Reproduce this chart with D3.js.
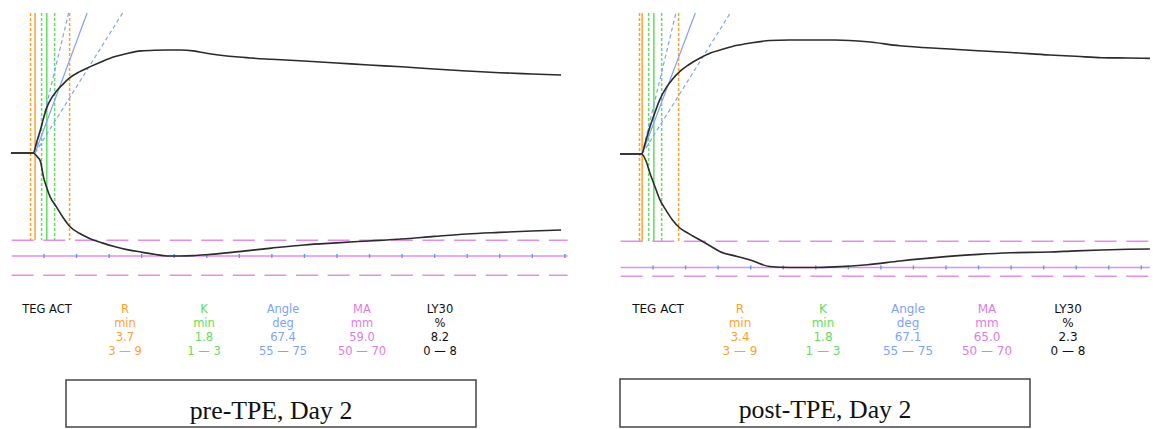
<!DOCTYPE html>
<html>
<head>
<meta charset="utf-8">
<script src="https://cdn.jsdelivr.net/npm/d3@7"></script>
<style>
  body { margin: 0; background: #fff; }
  svg { display: block; }
</style>
</head>
<body>
<div id="chart"></div>
<script>
// TEG tracings, pre and post TPE (amplitude in mm vs time in min)
const timesPre = [0, 3.4, 4.0, 4.5, 5.0, 5.5, 6.0, 7.0, 8.0, 9.0, 10.5, 12, 14, 16, 18, 20, 22, 24, 26, 28, 30, 35, 40, 45, 50, 55, 60, 65, 70, 75, 80, 84.5];
const upperPre = [0, 0, 7, 13, 20, 26, 30, 35.5, 39.5, 43, 46.5, 49.2, 52.5, 55.3, 57.2, 58.5, 58.9, 59, 59, 58.5, 57.2, 55, 53.7, 52.7, 51.6, 50.4, 49.4, 48.1, 47, 46, 45.3, 44.7];
const lowerPre = [0, 0, 2, 4.5, 14, 20, 25, 31, 37, 42, 46, 48.8, 51.5, 53.7, 55.5, 56.8, 58, 59, 59, 58.8, 58.3, 56.5, 54.5, 52.7, 51.5, 50.4, 49.3, 47.8, 46.4, 45.5, 44.7, 44.1];

const timesPost = [0, 3.3, 4.0, 4.6, 5.2, 6.1, 7.2, 8.0, 9.2, 10.5, 12.3, 14, 15.4, 18, 20, 23, 26, 30, 33, 38, 43, 50, 55, 60, 66, 70, 74, 78, 81.4];
const upperPost = [0, 0, 8, 15.5, 22, 31, 38.6, 42.5, 47.3, 51, 55, 58, 59.6, 62.3, 63.6, 65, 65.3, 65.3, 65.3, 64.3, 62, 60.3, 59.2, 58.2, 56.7, 56, 55.2, 55, 54.8];
const lowerPost = [0, 0, 4, 11, 17, 26, 33, 37.5, 42.4, 45.5, 49.3, 53, 56, 58.7, 60.7, 64.5, 65, 65, 64.7, 63.5, 61.3, 58.8, 57.5, 56.6, 56.2, 55.5, 55, 54.6, 54.4];

// parameter table
const paramNames = ["R", "K", "Angle", "MA", "LY30"];
const paramUnits = ["min", "min", "deg", "mm", "%"];
const valuesPre = [3.7, 1.8, 67.4, 59.0, 8.2];
const valuesPost = [3.4, 1.8, 67.1, 65.0, 2.3];
const rangeLow = [3, 1, 55, 50, 0];
const rangeHigh = [9, 3, 75, 70, 8];
const captions = ["pre-TPE, Day 2", "post-TPE, Day 2"];

const colors = ["#ff9f2e", "#62dd62", "#7fa2ff", "#e07ce0", "#111"];
const traceColor = "#2b2b2b";

const width = 1156, height = 429;
const pxPerMin = 6.51, pxPerMm = 1.745, topY = 13;

const panels = [
  { x0: 11, cy: 153, tEnd: 85.5, ticksTo: 85, times: timesPre, upper: upperPre, lower: lowerPre, values: valuesPre,
    labelX: 47, cols: [125, 204, 283, 362, 440], font: 11.5, caption: captions[0], box: [66, 380, 410, 47] },
  { x0: 620, cy: 154, tEnd: 81.4, ticksTo: 80, times: timesPost, upper: upperPost, lower: lowerPost, values: valuesPost,
    labelX: 658, cols: [740, 823, 908, 987, 1068], font: 12, caption: captions[1], box: [620, 379, 410, 48] }
];

const svg = d3.select("#chart").append("svg")
  .attr("width", width)
  .attr("height", height);

panels.forEach(p => {
  const g = svg.append("g");

  const x = d3.scaleLinear().domain([0, 90]).range([p.x0, p.x0 + 90 * pxPerMin]);
  const y = d3.scaleLinear().domain([-80, 80]).range([p.cy + 80 * pxPerMm, p.cy - 80 * pxPerMm]);

  const R = p.values[0], K = p.values[1], angle = p.values[2], MA = p.values[3];
  const bottomY = y(-rangeLow[3]);

  // R and K markers
  const vlines = [
    { t: rangeLow[0], c: colors[0], dash: "3,2" },
    { t: rangeHigh[0], c: colors[0], dash: "3,2" },
    { t: R + rangeLow[1], c: colors[1], dash: "3,2" },
    { t: R + rangeHigh[1], c: colors[1], dash: "3,2" },
    { t: R, c: colors[0], dash: null },
    { t: R + K, c: colors[1], dash: null }
  ];
  g.selectAll("line.v").data(vlines).enter().append("line")
    .attr("class", "v")
    .attr("x1", d => x(d.t)).attr("x2", d => x(d.t))
    .attr("y1", topY).attr("y2", bottomY)
    .attr("stroke", d => d.c)
    .attr("stroke-width", 1.5)
    .attr("stroke-dasharray", d => d.dash);

  // angle lines from R point
  const angLines = [
    { a: rangeLow[2], dash: "4,3" },
    { a: rangeHigh[2], dash: "4,3" },
    { a: angle, dash: null }
  ];
  g.selectAll("line.a").data(angLines).enter().append("line")
    .attr("class", "a")
    .attr("x1", x(R)).attr("y1", y(0))
    .attr("x2", d => x(R) + (y(0) - topY) / (Math.tan(d.a * Math.PI / 180) * 1.12))
    .attr("y2", topY)
    .attr("stroke", colors[2])
    .attr("stroke-width", 1.2)
    .attr("stroke-dasharray", d => d.dash);

  // MA reference lines
  const hlines = [
    { v: rangeLow[3], dash: "22,9.6" },
    { v: rangeHigh[3], dash: "22,9.6" },
    { v: MA, dash: null }
  ];
  g.selectAll("line.h").data(hlines).enter().append("line")
    .attr("class", "h")
    .attr("x1", x(0.1)).attr("x2", x(p.tEnd))
    .attr("y1", d => y(-d.v)).attr("y2", d => y(-d.v))
    .attr("stroke", "#e58ee5")
    .attr("stroke-width", 1.5)
    .attr("stroke-dasharray", d => d.dash);

  // time ticks on the MA line
  const axis = d3.axisBottom(x)
    .tickValues(d3.range(5, p.ticksTo + 1, 5))
    .tickSize(4)
    .tickFormat("");
  const ax = g.append("g")
    .attr("transform", `translate(0,${y(-MA) - 2})`)
    .call(axis);
  ax.select(".domain").remove();
  ax.selectAll(".tick line").attr("stroke", "#4f9dff").attr("stroke-width", 1.4);

  // tracing
  const pts = p.times.map((t, i) => ({ t: t, u: p.upper[i], l: p.lower[i] }));
  const upLine = d3.line().x(d => x(d.t)).y(d => y(d.u)).curve(d3.curveMonotoneX);
  const loLine = d3.line().x(d => x(d.t)).y(d => y(-d.l)).curve(d3.curveMonotoneX);
  g.append("path").datum(pts).attr("d", upLine)
    .attr("fill", "none").attr("stroke", traceColor).attr("stroke-width", 1.6);
  g.append("path").datum(pts).attr("d", loLine)
    .attr("fill", "none").attr("stroke", traceColor).attr("stroke-width", 1.6);

  // parameter table
  const rows = [313, 327, 341, 355];
  g.append("text")
    .attr("x", p.labelX).attr("y", rows[0])
    .attr("text-anchor", "middle")
    .style("font-family", "DejaVu Sans, Verdana, sans-serif")
    .style("font-size", p.font + "px")
    .attr("fill", "#111")
    .text("TEG ACT");

  paramNames.forEach((name, i) => {
    const lines = [name, paramUnits[i], p.values[i].toFixed(1), rangeLow[i] + " \u2014 " + rangeHigh[i]];
    g.selectAll(null).data(lines).enter().append("text")
      .attr("x", p.cols[i])
      .attr("y", (d, j) => rows[j])
      .attr("text-anchor", "middle")
      .style("font-family", "DejaVu Sans, Verdana, sans-serif")
      .style("font-size", p.font + "px")
      .attr("fill", colors[i])
      .text(d => d);
  });

  // caption box
  g.append("rect")
    .attr("x", p.box[0]).attr("y", p.box[1])
    .attr("width", p.box[2]).attr("height", p.box[3])
    .attr("fill", "#fff")
    .attr("stroke", "#444")
    .attr("stroke-width", 1.5);
  g.append("text")
    .attr("x", p.box[0] + p.box[2] / 2)
    .attr("y", p.box[1] + 39)
    .attr("text-anchor", "middle")
    .style("font-family", "Liberation Serif, Times New Roman, serif")
    .style("font-size", "25.8px")
    .attr("fill", "#111")
    .text(p.caption);
});
</script>
</body>
</html>
